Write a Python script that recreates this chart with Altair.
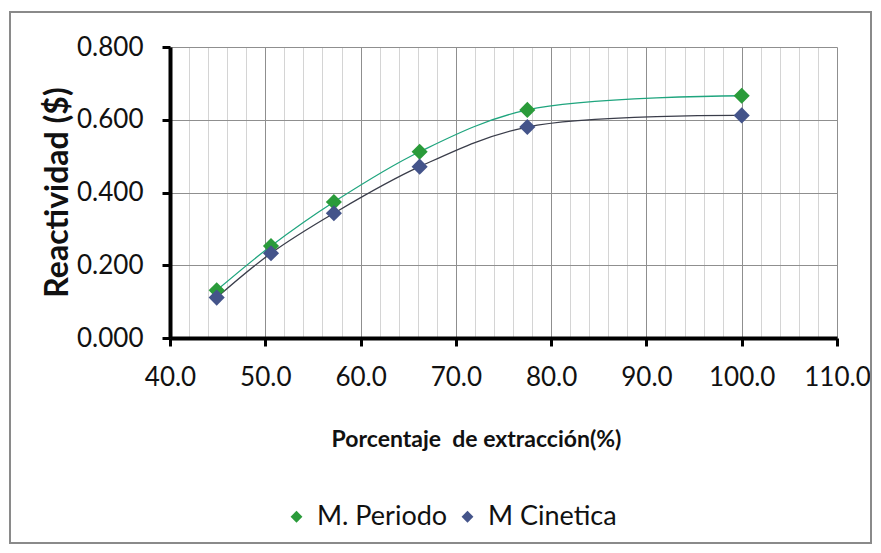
import altair as alt
import pandas as pd

# ---- data ----
x_pct = [44.9, 50.6, 57.2, 66.2, 77.5, 100.0]
periodo = [0.131, 0.253, 0.374, 0.512, 0.627, 0.666]
cinetica = [0.111, 0.233, 0.343, 0.471, 0.580, 0.612]
series_names = ["M. Periodo", "M Cinetica"]
point_colors = ["#2a9b3a", "#44548a"]
line_colors = ["#1fa57e", "#3a3d4a"]
x_ticks = list(range(40, 112, 2))
y_ticks = [0.0, 0.2, 0.4, 0.6, 0.8]

rows = []
for name, vals in zip(series_names, [periodo, cinetica]):
    for x, y in zip(x_pct, vals):
        rows.append({"Porcentaje": x, "Reactividad": y, "Serie": name})
df = pd.DataFrame(rows)

FONT = "Lato, Liberation Sans, Arial, sans-serif"

x_enc = alt.X(
    "Porcentaje:Q",
    scale=alt.Scale(domain=[40, 110], nice=False, zero=False),
    axis=alt.Axis(
        values=x_ticks,
        labelExpr="datum.value % 10 === 0 ? format(datum.value, '.1f') : ''",
        grid=True,
        gridColor={"condition": {"test": "datum.value % 10 === 0", "value": "#8f8f8f"}, "value": "#d4d4d4"},
        gridWidth=1,
        tickColor={"condition": {"test": "datum.value % 10 === 0", "value": "#000000"}, "value": "transparent"},
        tickSize=8,
        tickWidth=3,
        domainColor="#000000",
        domainWidth=4,
        labelFont=FONT,
        labelFontSize=26,
        labelColor="#111111",
        labelPadding=18,
        labelFlush=False,
        labelOverlap=False,
        title="Porcentaje\u00a0 de extracción(%)",
        titleFont=FONT,
        titleFontSize=23,
        titleFontWeight="bold",
        titleColor="#111111",
        titleX=306,
        titleY=108,
        titleAlign="center",
        titleBaseline="alphabetic",
    ),
)

y_enc = alt.Y(
    "Reactividad:Q",
    scale=alt.Scale(domain=[0, 0.8], nice=False),
    axis=alt.Axis(
        values=y_ticks,
        format=".3f",
        grid=True,
        gridColor="#8f8f8f",
        gridWidth=1,
        tickColor="#000000",
        tickSize=8,
        tickWidth=3,
        domainColor="#000000",
        domainWidth=4,
        labelFont=FONT,
        labelFontSize=26,
        labelColor="#111111",
        labelPadding=19,
        labelFlush=False,
        labelOverlap=False,
        title="Reactividad ($)",
        titleFont=FONT,
        titleFontSize=32,
        titleFontWeight="bold",
        titleColor="#111111",
        titleAngle=270,
        titleX=-113,
        titleY=145,
        titleAlign="center",
        titleBaseline="middle",
    ),
)

base = alt.Chart(df).encode(x=x_enc, y=y_enc)

lines = base.mark_line(interpolate="catmull-rom", strokeWidth=1.3).encode(
    color=alt.Color("Serie:N", scale=alt.Scale(domain=series_names, range=line_colors), legend=None),
    detail="Serie:N",
)

points = base.mark_point(shape="diamond", filled=True, size=260, opacity=1).encode(
    color=alt.Color(
        "Serie:N",
        scale=alt.Scale(domain=series_names, range=point_colors),
        legend=alt.Legend(
            title=None,
            orient="none",
            legendX=113,
            legendY=456,
            direction="horizontal",
            symbolType="diamond",
            symbolSize=140,
            symbolStrokeWidth=0,
            labelFont=FONT,
            labelFontSize=27,
            labelColor="#111111",
            columnPadding=6,
            labelOffset=7,
        ),
    ),
)

frame = alt.Chart(pd.DataFrame({"a": [0]})).mark_rect(
    fill="transparent", stroke="#8a8a8a", strokeWidth=2
).encode(x=alt.value(-160), x2=alt.value(701), y=alt.value(-35), y2=alt.value(496))

chart = (
    alt.layer(frame, lines, points)
    .resolve_scale(color="independent")
    .properties(
        width=667,
        height=291,
        autosize=alt.AutoSizeParams(type="none"),
        padding={"left": 162, "top": 39, "right": 36, "bottom": 207},
        background="#ffffff",
    )
    .configure_view(strokeWidth=0)
)

chart.save("out.html", embed_options={"renderer": "svg", "actions": False})
